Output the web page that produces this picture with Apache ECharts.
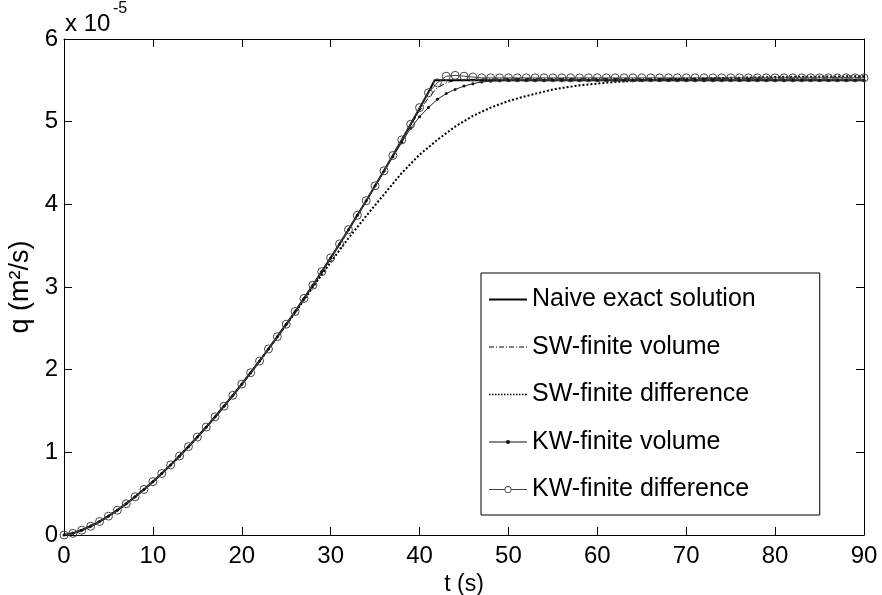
<!DOCTYPE html>
<html><head><meta charset="utf-8">
<script src="https://cdn.jsdelivr.net/npm/echarts@6/dist/echarts.min.js"></script>
<style>html,body{margin:0;padding:0;background:#fff}#c{width:882px;height:595px}</style>
</head><body><div id="c"></div>
<script>
// values of q are in units of 1e-5 m^2/s
const xTicks = [0,10,20,30,40,50,60,70,80,90];
const yTicks = [0,1,2,3,4,5,6];
const seriesNames = ['Naive exact solution','SW-finite volume','SW-finite difference','KW-finite volume','KW-finite difference'];

const tExact = [0,1,2,3,4,5,6,7,8,9,10,11,12,13,14,15,16,17,18,19,20,21,22,23,24,25,26,27,28,29,30,31,32,33,34,35,36,37,38,39,40,41,41.7,90];
const qExact = [0,0.020,0.058,0.106,0.163,0.228,0.300,0.378,0.462,0.551,0.645,0.744,0.848,0.956,1.069,1.185,1.306,1.430,1.558,1.690,1.825,1.963,2.105,2.250,2.399,2.550,2.704,2.862,3.022,3.186,3.352,3.521,3.693,3.867,4.044,4.224,4.406,4.591,4.779,4.969,5.161,5.355,5.5,5.5];

const tSWFV = [0,2,4,6,8,10,12,14,16,18,20,22,24,26,28,30,32,34,36,38,39,40,41,42,43,44,45,47,50,60,70,80,90];
const qSWFV = [0,0.058,0.163,0.300,0.462,0.645,0.848,1.069,1.306,1.558,1.825,2.105,2.399,2.704,3.022,3.352,3.693,4.044,4.400,4.770,4.955,5.13,5.29,5.41,5.47,5.50,5.51,5.515,5.52,5.52,5.52,5.525,5.53];

const tSWFD = [0,2,4,6,8,10,12,14,16,18,20,22,24,26,28,30,32,34,36,38,40,42,44,46,48,50,52,55,58,62,66,70,75,80,85,90];
const qSWFD = [0,0.058,0.163,0.300,0.462,0.645,0.848,1.069,1.306,1.558,1.825,2.105,2.395,2.69,3.00,3.30,3.59,3.86,4.12,4.38,4.60,4.78,4.94,5.07,5.17,5.25,5.31,5.39,5.44,5.48,5.505,5.52,5.53,5.54,5.545,5.55];

const tKW = [0,1,2,3,4,5,6,7,8,9,10,11,12,13,14,15,16,17,18,19,20,21,22,23,24,25,26,27,28,29,30,31,32,33,34,35,36,37,38,39,40,41,42,43,44,45,46,47,48,49,50,51,52,53,54,55,56,57,58,59,60,61,62,63,64,65,66,67,68,69,70,71,72,73,74,75,76,77,78,79,80,81,82,83,84,85,86,87,88,89,90];
const qKWFV = [0,0.020,0.058,0.106,0.163,0.228,0.300,0.378,0.462,0.551,
  0.645,0.744,0.848,0.956,1.069,1.185,1.306,1.430,1.558,1.690,
  1.825,1.963,2.105,2.250,2.399,2.550,2.704,2.862,3.022,3.186,
  3.352,3.521,3.693,3.867,4.044,4.224,4.400,4.575,4.75,4.92,
  5.06,5.17,5.27,5.34,5.39,5.43,5.46,5.48,5.49,5.495,
  5.5,5.5,5.5,5.5,5.5,5.5,5.5,5.5,5.5,5.5,
  5.5,5.5,5.5,5.5,5.5,5.5,5.5,5.5,5.5,5.5,
  5.5,5.5,5.5,5.5,5.5,5.5,5.5,5.5,5.5,5.5,
  5.5,5.5,5.5,5.5,5.5,5.5,5.5,5.5,5.5,5.5,
  5.5];
const qKWFD = [0,0.020,0.058,0.106,0.163,0.228,0.300,0.378,0.462,0.551,
  0.645,0.744,0.848,0.956,1.069,1.185,1.306,1.430,1.558,1.690,
  1.825,1.963,2.105,2.250,2.399,2.550,2.704,2.862,3.022,3.186,
  3.352,3.521,3.693,3.867,4.044,4.224,4.406,4.591,4.779,4.969,
  5.17,5.35,5.47,5.55,5.56,5.55,5.54,5.53,5.53,5.53,
  5.53,5.53,5.53,5.53,5.53,5.53,5.53,5.53,5.53,5.53,
  5.53,5.53,5.53,5.53,5.53,5.53,5.53,5.53,5.53,5.53,
  5.53,5.53,5.53,5.53,5.53,5.53,5.53,5.53,5.53,5.53,
  5.53,5.53,5.53,5.53,5.53,5.53,5.53,5.53,5.53,5.53,
  5.53];

function pairs(t, q){ return t.map((v,i)=>[v,q[i]]); }

const FONT = 'Liberation Sans, Arial, Helvetica, sans-serif';
const chart = echarts.init(document.getElementById('c'), null, {renderer:'canvas'});

const axisCommon = {
  axisLine:{show:true, onZero:false, lineStyle:{color:'#000', width:1}},
  axisTick:{show:true, inside:true, length:8, lineStyle:{color:'#000', width:1}},
  splitLine:{show:false}
};

// legend icon shapes (line samples)
const iconSolid = 'path://M0,0 L38,0 L38,2 L0,2 Z';
const iconDashDot = 'path://M0,0 L5,0 L5,1 L0,1 Z M7,0 L8,0 L8,1 L7,1 Z M10,0 L15,0 L15,1 L10,1 Z M17,0 L18,0 L18,1 L17,1 Z M20,0 L25,0 L25,1 L20,1 Z M27,0 L28,0 L28,1 L27,1 Z M30,0 L35,0 L35,1 L30,1 Z M37,0 L38,0 L38,1 L37,1 Z';
let dots = '';
[0,3,6,9,12,15,18,21,24,27,30,33,36].forEach(x=>{ dots += 'M'+x+',0 L'+(x+1.5)+',0 L'+(x+1.5)+',1.5 L'+x+',1.5 Z '; });
const iconDotted = 'path://' + dots + 'M36.5,0 L38,0 L38,1.5 L36.5,1.5 Z';
const iconLineDot = 'path://M0,1.5 L38,1.5 L38,2.5 L0,2.5 Z M19,0 A2,2 0 1 1 19,4 A2,2 0 1 1 19,0 Z';
const iconLineCircle = 'path://M0,3.5 L15.5,3.5 L15.5,4.5 L0,4.5 Z M22.5,3.5 L38,3.5 L38,4.5 L22.5,4.5 Z M19,0.5 A3.5,3.5 0 1 1 19,7.5 A3.5,3.5 0 1 1 19,0.5 Z M19,1.4 A2.6,2.6 0 1 0 19,6.6 A2.6,2.6 0 1 0 19,1.4 Z';
const legendIcons = [iconSolid, iconDashDot, iconDotted, iconLineDot, iconLineCircle];
const legendColors = ['#000','#000','#000','#111','#444'];

chart.setOption({
  animation:false,
  backgroundColor:'#fff',
  grid:{left:64, right:18, top:39, bottom:60, containLabel:false, outerBoundsMode:'none'},
  xAxis:[
    Object.assign({type:'value', min:0, max:90, interval:10, position:'bottom',
      name:'t (s)', nameLocation:'middle', nameGap:30,
      nameTextStyle:{fontFamily:FONT, fontSize:23, color:'#000'},
      axisLabel:{fontFamily:FONT, fontSize:24, color:'#000', margin:9,
        formatter:v=>xTicks.includes(v)?String(v):''}}, axisCommon),
    Object.assign({type:'value', min:0, max:90, interval:10, position:'top',
      axisLabel:{show:false}}, axisCommon)
  ],
  yAxis:[
    Object.assign({type:'value', min:0, max:6, interval:1, position:'left',
      name:'q (m\u00b2/s)', nameLocation:'middle', nameGap:25, nameRotate:90,
      nameTextStyle:{fontFamily:FONT, fontSize:27, color:'#000'},
      axisLabel:{fontFamily:FONT, fontSize:24, color:'#000', margin:6,
        formatter:v=>yTicks.includes(v)?String(v):''}}, axisCommon),
    Object.assign({type:'value', min:0, max:6, interval:1, position:'right',
      axisLabel:{show:false}}, axisCommon)
  ],
  graphic:[
    {type:'text', left:65, top:12, style:{text:'x 10', font:'24px '+FONT, fill:'#000'}},
    {type:'text', left:113, top:1, style:{text:'-5', font:'16px '+FONT, fill:'#000'}}
  ],
  legend:{
    orient:'vertical', left:481, top:273,
    padding:[14,64,13,8], itemGap:22.5, itemWidth:38, itemHeight:14,
    borderColor:'#000', borderWidth:1, backgroundColor:'#fff',
    textStyle:{fontFamily:FONT, fontSize:25, color:'#000'},
    data:seriesNames.map((n,i)=>({name:n, icon:legendIcons[i],
      itemStyle:{color:legendColors[i], borderWidth:0, opacity:1}}))
  },
  series:[
    {name:seriesNames[0], type:'line', data:pairs(tExact,qExact), symbol:'none',
      color:'#000', lineStyle:{color:'#000', width:2}},
    {name:seriesNames[1], type:'line', data:pairs(tSWFV,qSWFV), symbol:'none',
      color:'#000', lineStyle:{color:'#000', width:1, type:[6,2,1,2]}},
    {name:seriesNames[2], type:'line', data:pairs(tSWFD,qSWFD), symbol:'none',
      color:'#000', lineStyle:{color:'#000', width:2, type:[2,2]}},
    {name:seriesNames[3], type:'line', data:pairs(tKW,qKWFV), symbol:'circle', symbolSize:3,
      color:'#111', itemStyle:{color:'#111'}, lineStyle:{color:'#222', width:1}},
    {name:seriesNames[4], type:'line', data:pairs(tKW,qKWFD), symbol:'circle', symbolSize:8,
      color:'#444', itemStyle:{color:'rgba(255,255,255,0)', borderColor:'#444', borderWidth:1},
      lineStyle:{color:'#444', width:1}}
  ]
});
</script></body></html>
